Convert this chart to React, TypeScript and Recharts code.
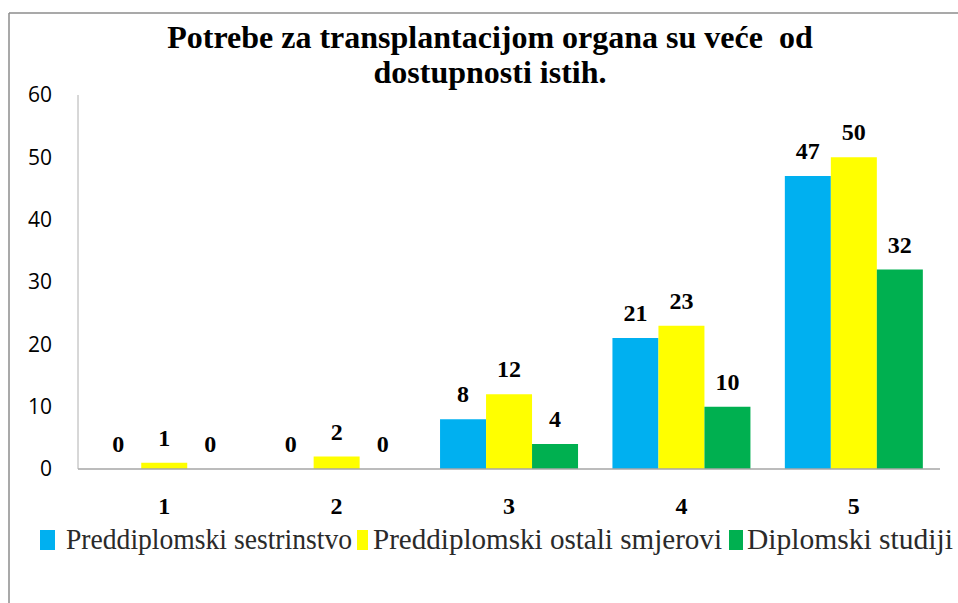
import React from 'react';
import { BarChart, Bar, XAxis, YAxis, LabelList, Legend } from 'recharts';

const categories = ['1', '2', '3', '4', '5'];
const sestrinstvo = [0, 0, 8, 21, 47];
const ostaliSmjerovi = [1, 2, 12, 23, 50];
const diplomski = [0, 0, 4, 10, 32];
const yTicks = [0, 10, 20, 30, 40, 50, 60];

const seriesNames = ['Preddiplomski sestrinstvo', 'Preddiplomski ostali smjerovi', 'Diplomski studiji'];
const seriesColors = ['#00B0F0', '#FFFF00', '#00B050'];
const titleLines = ['Potrebe za transplantacijom organa su veće  od', 'dostupnosti istih.'];

const data = categories.map((c, i) => ({
  name: c,
  sestrinstvo: sestrinstvo[i],
  ostali: ostaliSmjerovi[i],
  diplomski: diplomski[i],
}));

const serif = "'Liberation Serif', 'Times New Roman', serif";

// legend item boxes
const legendLayout = [
  { sq: 40, sqW: 15, tx: 66, tw: 286 },
  { sq: 357, sqW: 11, tx: 373, tw: 349 },
  { sq: 729, sqW: 14, tx: 747, tw: 206 },
];

const legendText = { fontFamily: serif, fontSize: 29, fill: '#2a2a2a' };
const titleText = { fontFamily: serif, fontWeight: 'bold' as const, fontSize: 32, fill: '#000', whiteSpace: 'pre' as const };

const CustomLegend = () => (
  <svg width={958} height={40} style={{ display: 'block' }}>
    {seriesNames.map((name, i) => {
      const l = legendLayout[i];
      return (
        <g key={name}>
          <rect x={l.sq} y={13} width={l.sqW} height={20} fill={seriesColors[i]} />
          <text x={l.tx} y={32} style={legendText} textLength={l.tw} lengthAdjust="spacingAndGlyphs">
            {name}
          </text>
        </g>
      );
    })}
  </svg>
);

const labelStyle = { fontFamily: serif, fontWeight: 'bold' as const, fontSize: 24, fill: '#000' };

export default function App() {
  return (
    <div style={{ position: 'absolute', left: 0, top: 0, width: 958, height: 603, background: '#fff' }}>
      <svg width={958} height={603} style={{ position: 'absolute', left: 0, top: 0 }}>
        <line x1={9} y1={13} x2={958} y2={13} stroke="#8c8c8c" strokeWidth={1.5} />
        <line x1={9} y1={13} x2={9} y2={603} stroke="#8c8c8c" strokeWidth={1.5} />
        <text x={490} y={48} textAnchor="middle" style={titleText}>
          {titleLines[0]}
        </text>
        <text x={490} y={83} textAnchor="middle" style={titleText}>
          {titleLines[1]}
        </text>
      </svg>
      <div style={{ position: 'absolute', left: 0, top: 0 }}>
        <BarChart
          width={958}
          height={603}
          data={data}
          margin={{ top: 95, right: 18, left: 8, bottom: 50 }}
          barCategoryGap="10%"
          barGap={0}
        >
          <XAxis
            dataKey="name"
            height={44}
            tickLine={false}
            axisLine={{ stroke: '#a6a6a6', strokeWidth: 1.5 }}
            tick={{ ...labelStyle }}
            tickMargin={22}
          />
          <YAxis
            width={70}
            domain={[0, 60]}
            ticks={yTicks}
            tickLine={false}
            tickSize={0}
            tickMargin={26}
            axisLine={{ stroke: '#b0b0b0' }}
            tick={{ fontFamily: "'Open Sans', sans-serif", fontSize: 21, fill: '#000' }}
          />
          <Legend
            verticalAlign="bottom"
            content={<CustomLegend />}
            wrapperStyle={{ left: 0, top: 517, width: 958, height: 40 }}
          />
          <Bar dataKey="sestrinstvo" name={seriesNames[0]} fill={seriesColors[0]} minPointSize={0.01} isAnimationActive={false}>
            <LabelList dataKey="sestrinstvo" position="top" offset={17} style={labelStyle} />
          </Bar>
          <Bar dataKey="ostali" name={seriesNames[1]} fill={seriesColors[1]} minPointSize={0.01} isAnimationActive={false}>
            <LabelList dataKey="ostali" position="top" offset={17} style={labelStyle} />
          </Bar>
          <Bar dataKey="diplomski" name={seriesNames[2]} fill={seriesColors[2]} minPointSize={0.01} isAnimationActive={false}>
            <LabelList dataKey="diplomski" position="top" offset={17} style={labelStyle} />
          </Bar>
        </BarChart>
      </div>
    </div>
  );
}
